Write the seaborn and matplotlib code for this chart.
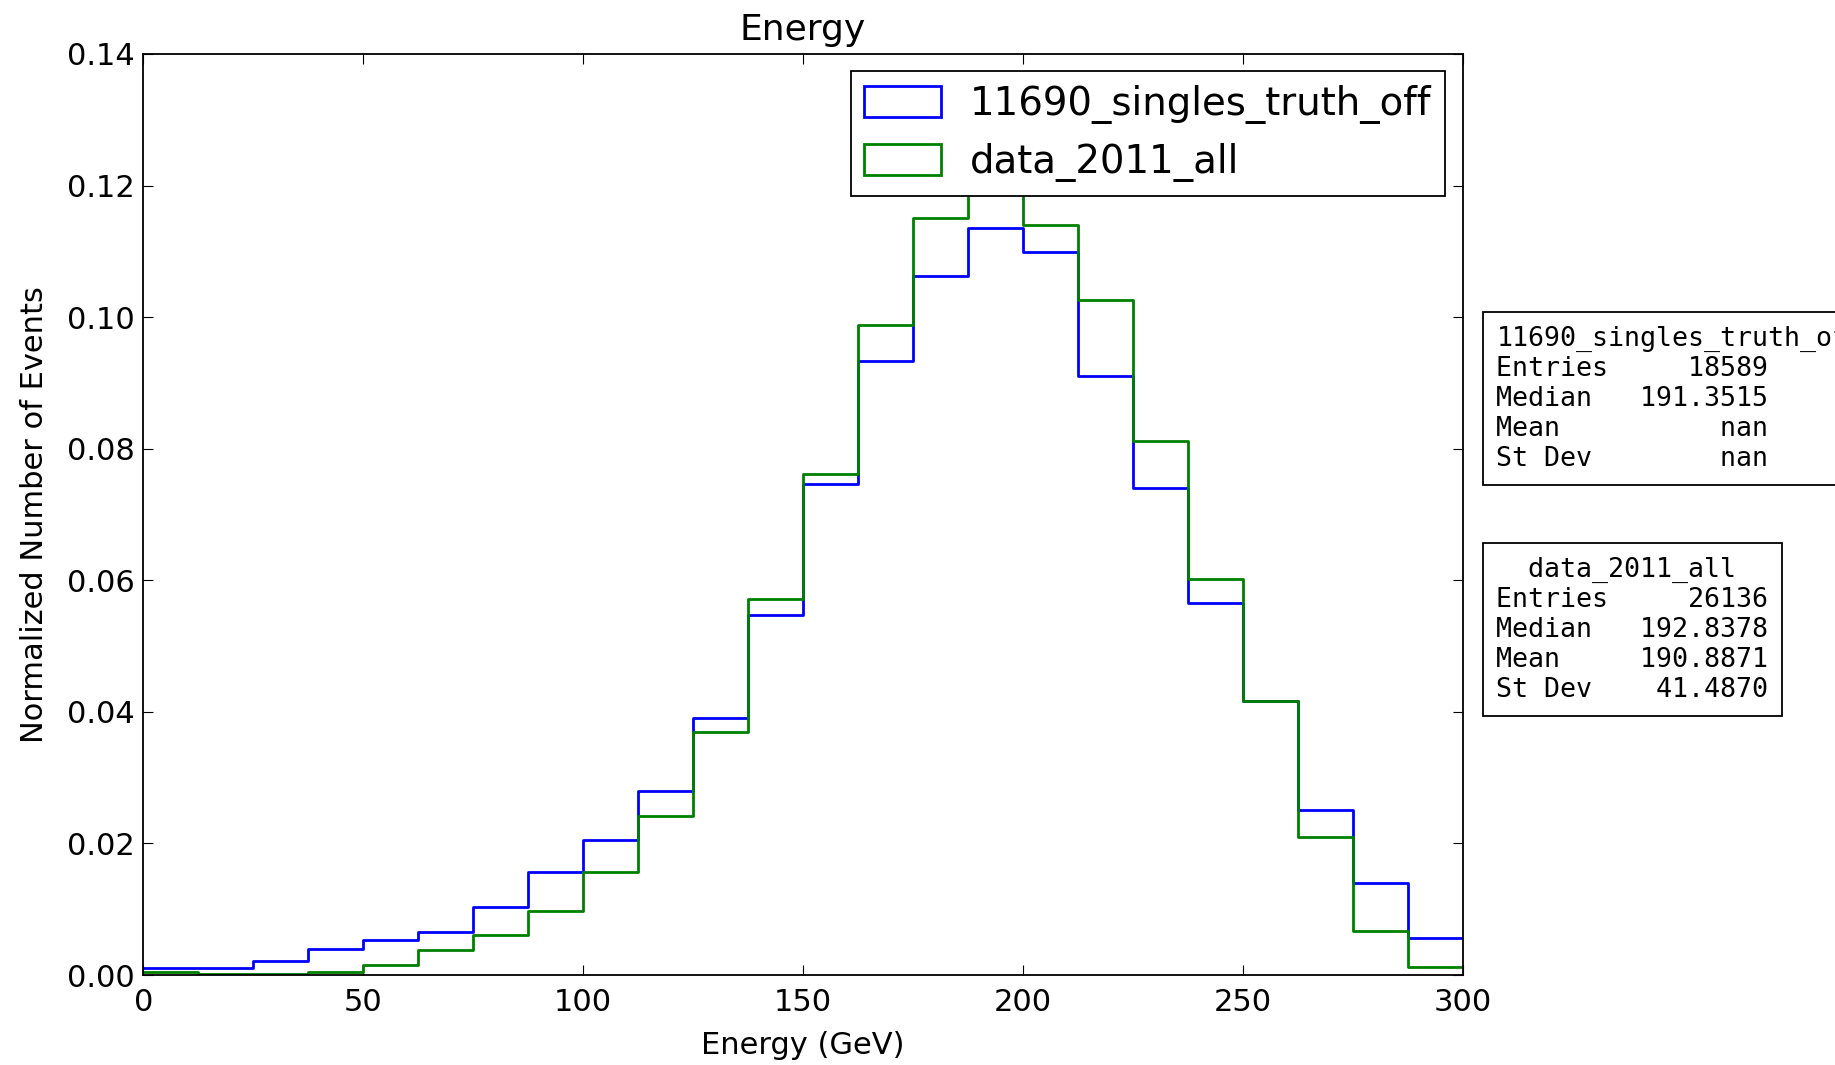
import numpy as np
import pandas as pd
import matplotlib
matplotlib.use("Agg")
import matplotlib.pyplot as plt
from matplotlib.patches import Patch
import seaborn as sns

# ---- data ----
bin_edges = [float(v) for v in np.linspace(0, 300, 25)]
bin_centers = [(a + b) / 2 for a, b in zip(bin_edges[:-1], bin_edges[1:])]

series_names = ["11690_singles_truth_off", "data_2011_all"]
mc_values = [0.0010, 0.0011, 0.0022, 0.0040, 0.0053, 0.0066, 0.0104, 0.0157,
             0.0205, 0.0279, 0.0391, 0.0547, 0.0747, 0.0934, 0.1062, 0.1136,
             0.1099, 0.0910, 0.0741, 0.0565, 0.0417, 0.0251, 0.0140, 0.0057]
data_values = [0.0005, 0.0002, 0.0002, 0.0005, 0.0015, 0.0038, 0.0061, 0.0097,
               0.0157, 0.0242, 0.0369, 0.0571, 0.0762, 0.0988, 0.1150, 0.1230,
               0.1140, 0.1026, 0.0811, 0.0602, 0.0417, 0.0210, 0.0067, 0.0012]

x_ticks = [0, 50, 100, 150, 200, 250, 300]
y_ticks = [0.00, 0.02, 0.04, 0.06, 0.08, 0.10, 0.12, 0.14]

stats_labels = ["Entries", "Median", "Mean", "St Dev"]
mc_stats = ["18589", "191.3515", "nan", "nan"]
data_stats = ["26136", "192.8378", "190.8871", "41.4870"]

colors = ["#0000ff", "#008000"]

# ---- style ----
sns.set_theme(style="white")
plt.rcParams.update({
    "font.family": ["DejaVu Sans"],
    "axes.edgecolor": "black",
    "axes.linewidth": 1.3,
    "xtick.direction": "in",
    "ytick.direction": "in",
    "xtick.top": True,
    "ytick.right": True,
    "xtick.bottom": True,
    "ytick.left": True,
    "xtick.major.size": 7,
    "ytick.major.size": 7,
    "xtick.major.width": 0.8,
    "ytick.major.width": 0.8,
    "xtick.major.pad": 9.5,
    "ytick.major.pad": 6,
    "xtick.color": "black",
    "ytick.color": "black",
    "text.color": "black",
    "axes.labelcolor": "black",
})

fig = plt.figure(figsize=(18.35, 10.65), dpi=100)
ax = fig.add_axes([0.0781, 0.0845, 0.7190, 0.8648])

df = pd.DataFrame({
    "energy": bin_centers + bin_centers,
    "weight": mc_values + data_values,
    "sample": [series_names[0]] * len(bin_centers) + [series_names[1]] * len(bin_centers),
})

for name, col in zip(series_names, colors):
    sub = df[df["sample"] == name].reset_index(drop=True)
    sns.histplot(data=sub, x="energy", weights="weight", bins=bin_edges,
                 element="step", fill=False, color=col, linewidth=2.0, ax=ax)

ax.set_xlim(0, 300)
ax.set_ylim(0, 0.14)
ax.set_xticks(x_ticks)
ax.set_yticks(y_ticks)
ax.set_xticklabels([str(t) for t in x_ticks], fontsize=22)
ax.set_yticklabels([f"{t:.2f}" for t in y_ticks], fontsize=22)
ax.set_xlabel("Energy (GeV)", fontsize=22, labelpad=10)
ax.set_ylabel("Normalized Number of Events", fontsize=22, labelpad=13)
ax.set_title("Energy", fontsize=26, pad=10)

handles = [Patch(facecolor="none", edgecolor=c, linewidth=2.0) for c in colors]
leg = ax.legend(handles, series_names, loc="upper right", fontsize=27.8,
                frameon=True, fancybox=False, shadow=False, framealpha=1,
                handlelength=2.0, handleheight=0.85, borderaxespad=0.45,
                borderpad=0.35, labelspacing=0.5, handletextpad=0.75)
leg.get_frame().set_edgecolor("black")
leg.get_frame().set_linewidth(1.3)

# ---- stats boxes ----
def stats_text(name, values):
    width = 17
    lines = [name.center(width)]
    for lab, val in zip(stats_labels, values):
        lines.append(f"{lab:<9}{val:>8}")
    return "\n".join(lines)

box_kw = dict(boxstyle="square,pad=0.5", facecolor="white", edgecolor="black", linewidth=1.3)
fig.text(0.8155, 0.694, stats_text(series_names[0], mc_stats), ha="left", va="top",
         family="DejaVu Sans Mono", fontsize=19.2, bbox=box_kw)
fig.text(0.8155, 0.4775, stats_text(series_names[1], data_stats), ha="left", va="top",
         family="DejaVu Sans Mono", fontsize=19.2, bbox=box_kw)

fig.savefig("out.png", dpi=100)
